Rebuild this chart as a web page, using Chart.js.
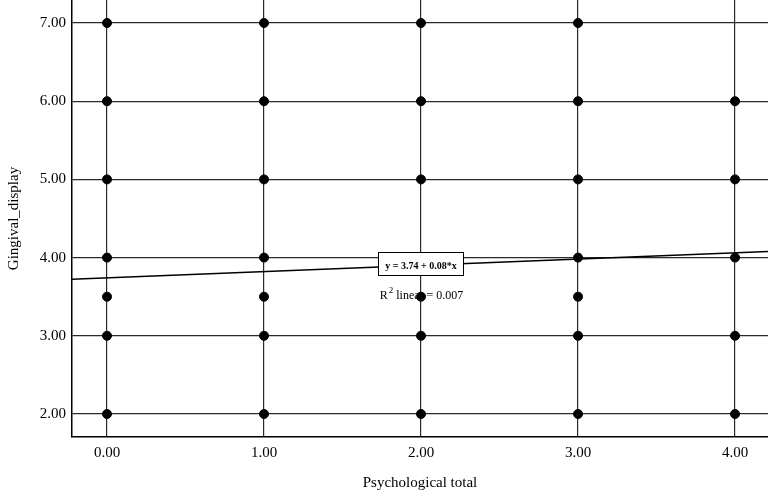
<!DOCTYPE html>
<html>
<head>
<meta charset="utf-8">
<script src="https://cdn.jsdelivr.net/npm/chart.js@4"></script>
<style>
  body { margin: 0; background: #fff; }
  #wrap { width: 768px; height: 492px; }
</style>
</head>
<body>
<div id="wrap"><canvas id="scatterChart" width="768" height="492"></canvas></div>
<script>
    // 데이터
    const xValues = [0, 1, 2, 3, 4];
    const yAtX0 = [7, 6, 5, 4, 3.5, 3, 2];
    const yAtX1 = [7, 6, 5, 4, 3.5, 3, 2];
    const yAtX2 = [7, 6, 5, 4, 3.5, 3, 2];
    const yAtX3 = [7, 6, 5, 4, 3.5, 3, 2];
    const yAtX4 = [6, 5, 4, 3, 2];
    const xTicks = [0, 1, 2, 3, 4];
    const yTicks = [2, 3, 4, 5, 6, 7];
    const xRange = [-0.223, 4.21];
    const yRange = [1.706, 7.294];

    // 회귀선
    const fitIntercept = 3.74;
    const fitSlope = 0.08;
    const rSquared = 0.007;
    const fitLabel = 'y = 3.74 + 0.08*x';

    const serif = "'Liberation Serif', 'DejaVu Serif', serif";

    const columns = [yAtX0, yAtX1, yAtX2, yAtX3, yAtX4];
    const points = [];
    columns.forEach((col, i) => col.forEach(y => points.push({ x: xValues[i], y: y })));

    const fitLine = xRange.map(x => ({ x: x, y: fitIntercept + fitSlope * x }));

    // 회귀식 라벨 그리기
    const fitLabelPlugin = {
        id: 'fitLabel',
        beforeDatasetsDraw(chart) {
            const { ctx, scales } = chart;
            const cx = scales.x.getPixelForValue(2);
            const cy = scales.y.getPixelForValue(3.5);
            ctx.save();
            ctx.fillStyle = '#000';
            ctx.textBaseline = 'middle';
            ctx.font = '12px ' + serif;
            const rest = ' linear = ' + rSquared.toFixed(3);
            const wR = ctx.measureText('R').width;
            ctx.font = '9px ' + serif;
            const w2 = ctx.measureText('2').width;
            ctx.font = '12px ' + serif;
            const wRest = ctx.measureText(rest).width;
            let x = cx - (wR + w2 + wRest) / 2;
            ctx.textAlign = 'left';
            ctx.fillText('R', x, cy - 1);
            x += wR + 1;
            ctx.font = '9px ' + serif;
            ctx.fillText('2', x, cy - 6);
            x += w2;
            ctx.font = '12px ' + serif;
            ctx.fillText(rest, x, cy - 1);
            ctx.restore();
        },
        afterDatasetsDraw(chart) {
            const { ctx, scales } = chart;
            const cx = scales.x.getPixelForValue(2);
            const cy = scales.y.getPixelForValue(fitIntercept + fitSlope * 2);
            ctx.save();
            ctx.font = 'bold 10px ' + serif;
            const w = ctx.measureText(fitLabel).width + 14;
            const top = Math.round(cy) - 13;
            const h = 24;
            ctx.fillStyle = '#fff';
            ctx.fillRect(cx - w / 2, top, w, h);
            ctx.strokeStyle = '#000';
            ctx.lineWidth = 1;
            ctx.strokeRect(Math.round(cx - w / 2) + 0.5, top + 0.5, Math.round(w), h - 1);
            ctx.fillStyle = '#000';
            ctx.textAlign = 'center';
            ctx.textBaseline = 'middle';
            ctx.fillText(fitLabel, cx, cy + 1);
            ctx.restore();
        }
    };

    const ctx = document.getElementById('scatterChart').getContext('2d');
    new Chart(ctx, {
        type: 'scatter',
        data: {
            datasets: [{
                data: points,
                backgroundColor: '#000',
                borderColor: '#000',
                pointRadius: 4.5,
                pointHoverRadius: 4.5,
                order: 1
            }, {
                type: 'line',
                data: fitLine,
                borderColor: '#000',
                borderWidth: 1.5,
                pointRadius: 0,
                fill: false,
                order: 2
            }]
        },
        options: {
            responsive: false,
            animation: false,
            events: [],
            layout: { padding: 0, autoPadding: false },
            plugins: {
                legend: { display: false },
                tooltip: { enabled: false }
            },
            scales: {
                x: {
                    type: 'linear',
                    min: xRange[0],
                    max: xRange[1],
                    afterBuildTicks: s => { s.ticks = xTicks.map(v => ({ value: v })); },
                    afterFit: s => { s.height = 55; s.paddingLeft = 0; s.paddingRight = 0; },
                    grid: { color: '#2a2a2a', lineWidth: 1.2, drawTicks: false },
                    border: { color: '#000', width: 1.5 },
                    ticks: {
                        padding: 7,
                        color: '#000',
                        font: { family: serif, size: 15 },
                        callback: v => Number(v).toFixed(2)
                    },
                    title: {
                        display: true,
                        text: 'Psychological total',
                        color: '#000',
                        font: { family: serif, size: 15 },
                        padding: { top: 0, bottom: 0 }
                    }
                },
                y: {
                    type: 'linear',
                    min: yRange[0],
                    max: yRange[1],
                    afterBuildTicks: s => { s.ticks = yTicks.map(v => ({ value: v })); },
                    afterFit: s => { s.width = 72; s.paddingTop = 0; s.paddingBottom = 0; },
                    grid: { color: '#2a2a2a', lineWidth: 1.2, drawTicks: false },
                    border: { color: '#000', width: 1.5 },
                    ticks: {
                        padding: 6,
                        color: '#000',
                        font: { family: serif, size: 15 },
                        callback: v => Number(v).toFixed(2)
                    },
                    title: {
                        display: true,
                        text: 'Gingival_display',
                        color: '#000',
                        font: { family: serif, size: 15 },
                        padding: { top: 5, bottom: 0 }
                    }
                }
            }
        },
        plugins: [fitLabelPlugin]
    });
</script>
</body>
</html>
